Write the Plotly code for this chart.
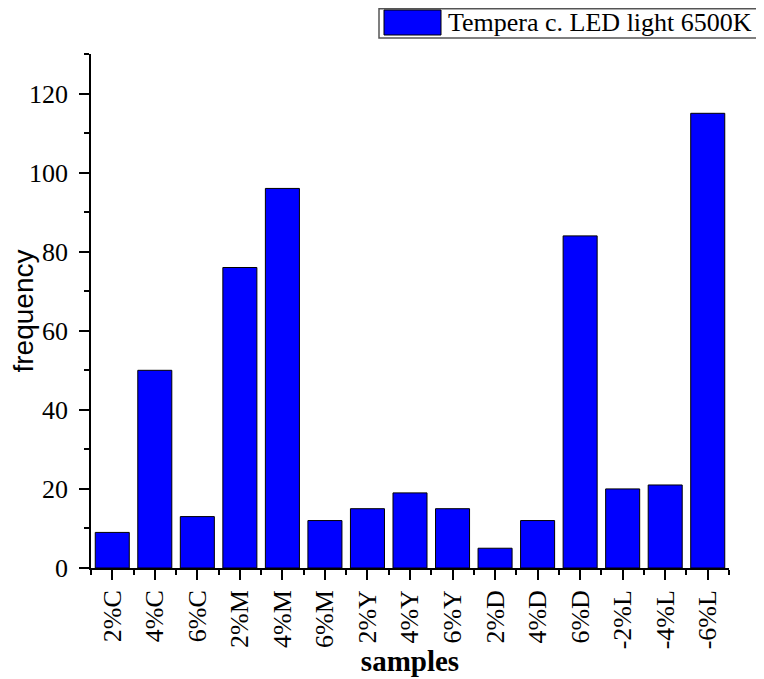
import plotly.graph_objects as go

# Data
samples = ["2%C", "4%C", "6%C", "2%M", "4%M", "6%M", "2%Y", "4%Y", "6%Y",
           "2%D", "4%D", "6%D", "-2%L", "-4%L", "-6%L"]
frequency = [9, 50, 13, 76, 96, 12, 15, 19, 15, 5, 12, 84, 20, 21, 115]
series_name = "Tempera c. LED light 6500K"

positions = list(range(len(samples)))

# the page puts the figure 8px in from the top-left corner
OFF = 8
W, H = 756, 671
L, R, T, B = 91 - OFF, 756 + OFF - 729, 54 - OFF, 671 + OFF - 568
pw, ph = W - L - R, H - T - B


def px(x):
    return (x - OFF - L) / pw


def py(y):
    return (H - B - (y - OFF)) / ph


fig = go.Figure()
fig.add_trace(go.Bar(
    x=positions, y=frequency, name=series_name, width=0.8,
    marker=dict(color="#0000ff", line=dict(color="black", width=1)),
    showlegend=False,
))

serif = "Liberation Serif, Times New Roman, serif"

fig.update_xaxes(
    range=[-0.5, len(samples) - 0.5], automargin=False,
    tickvals=positions, ticktext=samples, tickangle=-90,
    ticks="outside", ticklen=10, tickwidth=1.5, tickcolor="black",
    minor=dict(tick0=0.5, dtick=1, ticks="outside", ticklen=5, tickcolor="black", tickwidth=1.5),
    showline=True, linecolor="black", linewidth=1.5,
    showgrid=False, zeroline=False,
    tickfont=dict(family=serif, size=26, color="black"),
    title=dict(text="<b>samples</b>", font=dict(family=serif, size=29, color="black"), standoff=2),
)
fig.update_yaxes(
    range=[0, 130], tickvals=[0, 20, 40, 60, 80, 100, 120], automargin=False,
    ticks="outside", ticklen=10, tickwidth=1.5, tickcolor="black",
    minor=dict(dtick=10, ticks="outside", ticklen=5, tickcolor="black", tickwidth=1.5),
    showline=True, linecolor="black", linewidth=1.5,
    showgrid=False, zeroline=False, ticklabelstandoff=6,
    tickfont=dict(family=serif, size=26, color="black"),
    title=dict(text="frequency", font=dict(family="Liberation Sans, Arial, sans-serif", size=28, color="black"),
               standoff=11),
)

# Legend box drawn to match the large swatch of the original
fig.add_shape(type="rect", xref="paper", yref="paper",
              x0=px(379), x1=px(780), y0=py(38), y1=py(8.8),
              line=dict(color="#555555", width=1.5), fillcolor="white")
fig.add_shape(type="rect", xref="paper", yref="paper",
              x0=px(384), x1=px(441), y0=py(35), y1=py(10),
              line=dict(color="black", width=1), fillcolor="#0000ff")
fig.add_annotation(xref="paper", yref="paper", x=px(446), y=py(22),
                   text=series_name, showarrow=False, xanchor="left", yanchor="middle",
                   font=dict(family=serif, size=26, color="black"))

fig.update_layout(
    width=W, height=H,
    margin=dict(l=L, r=R, t=T, b=B),
    plot_bgcolor="white", paper_bgcolor="white",
    bargap=0.2,
)

fig.write_html("out.html")
